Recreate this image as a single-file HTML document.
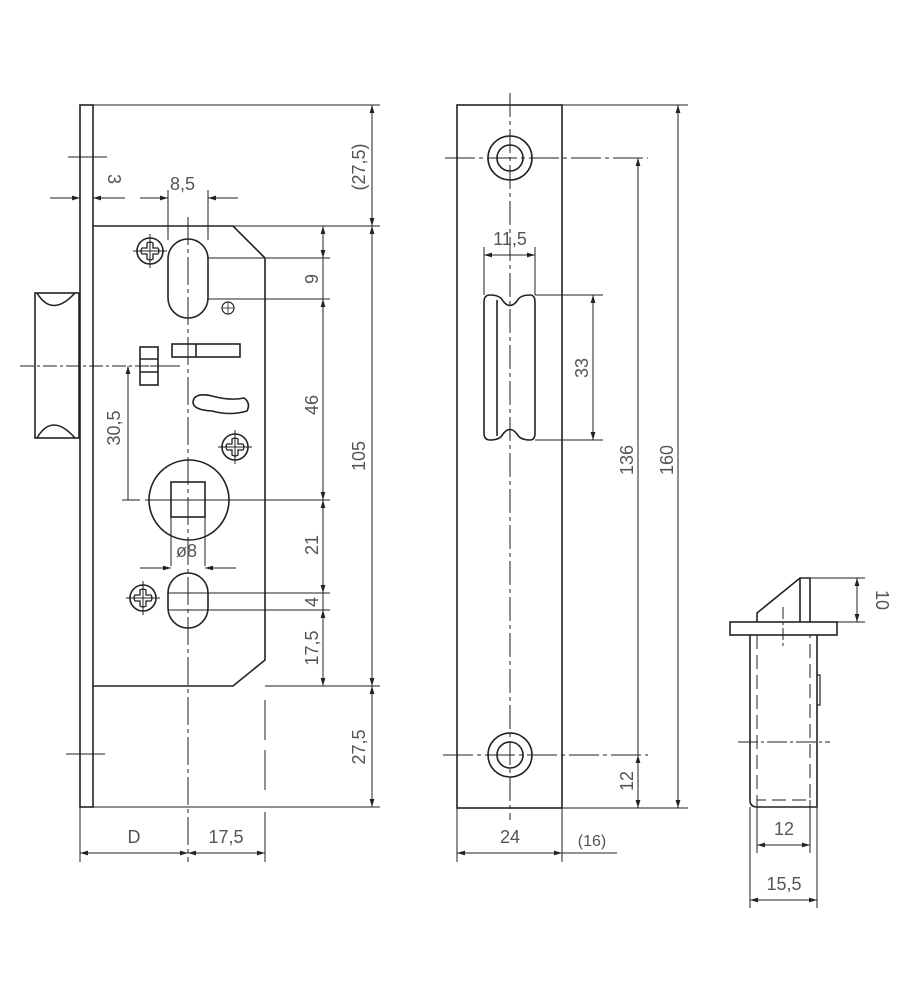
<!DOCTYPE html>
<html><head><meta charset="utf-8"><style>
html,body{margin:0;padding:0;background:#fff}
svg{display:block}
text{font-family:"Liberation Sans","DejaVu Sans",sans-serif;font-size:18px;fill:#555}
</style></head><body>
<svg width="903" height="1000" viewBox="0 0 903 1000" xmlns="http://www.w3.org/2000/svg">
<defs>
<marker id="a" viewBox="0 0 10 6" refX="10" refY="3" markerWidth="8" markerHeight="5" orient="auto-start-reverse"><path d="M0,0 L10,3 L0,6z" fill="#222"/></marker>
<g id="scr" fill="none" stroke="#222">
<circle cx="0" cy="0" r="13" stroke-width="1.6"/>
<path d="M-3,-8 Q0,-10 3,-8 L3,-3 L8,-3 Q10,0 8,3 L3,3 L3,8 Q0,10 -3,8 L-3,3 L-8,3 Q-10,0 -8,-3 L-3,-3z" stroke-width="1.3"/>
<line x1="-17" y1="0" x2="17" y2="0" stroke-width="1"/>
<line x1="0" y1="-17" x2="0" y2="17" stroke-width="1"/>
</g>
</defs>
<g stroke="#222" fill="none" stroke-width="1.6">
<rect x="80" y="105" width="13" height="702"/>
<line x1="93" y1="105" x2="380" y2="105" stroke-width="1"/>
<path d="M93,226 L233,226 L265,258 L265,660 L233,686 L93,686"/>
<line x1="233" y1="226" x2="380" y2="226" stroke-width="1"/>
<line x1="265" y1="686" x2="380" y2="686" stroke-width="1"/>
<line x1="93" y1="807" x2="380" y2="807" stroke-width="1"/>
<rect x="35" y="293" width="44" height="145"/>
<path d="M37,293 Q52,318 75,293" />
<path d="M37,438 Q52,412 75,438" />
<line x1="20" y1="366" x2="150" y2="366" stroke-width="1" stroke-dasharray="14,3,3,3"/>
<line x1="68" y1="157" x2="107" y2="157" stroke-width="1"/>
<line x1="66" y1="754" x2="105" y2="754" stroke-width="1"/>
<line x1="188" y1="217" x2="188" y2="862" stroke-width="1" stroke-dasharray="28,4,4,4"/>
<line x1="265" y1="700" x2="265" y2="800" stroke-width="1" stroke-dasharray="40,10"/>
<line x1="265" y1="812" x2="265" y2="862" stroke-width="1"/>
<line x1="80" y1="807" x2="80" y2="862" stroke-width="1"/>
<use href="#scr" x="150" y="251"/>
<rect x="168" y="239" width="40" height="79" rx="20"/>
<circle cx="228" cy="308" r="6" stroke-width="1.2"/>
<line x1="222" y1="308" x2="234" y2="308" stroke-width="0.8"/><line x1="228" y1="302" x2="228" y2="314" stroke-width="0.8"/>
<rect x="172" y="344" width="68" height="13"/>
<line x1="196" y1="344" x2="196" y2="357"/>
<rect x="140" y="347" width="18" height="38"/>
<line x1="140" y1="359" x2="158" y2="359"/><line x1="140" y1="372" x2="158" y2="372"/>
<path d="M193,402 Q194,392 212,396 Q230,401 244,398 Q251,403 247,411 Q230,416 212,411 Q193,410 193,402z"/>
<use href="#scr" x="235" y="447"/>
<circle cx="189" cy="500" r="40"/>
<rect x="171" y="482" width="34" height="35"/>
<line x1="171" y1="517" x2="171" y2="566" stroke-width="1"/>
<line x1="205" y1="517" x2="205" y2="566" stroke-width="1"/>
<line x1="145" y1="500" x2="330" y2="500" stroke-width="1"/>
<line x1="122" y1="500" x2="140" y2="500" stroke-width="1"/>
<rect x="168" y="573" width="40" height="55" rx="20"/>
<use href="#scr" x="143" y="598"/>
<g stroke-width="1">
<line x1="208" y1="258" x2="330" y2="258"/>
<line x1="208" y1="299" x2="330" y2="299"/>
<line x1="168" y1="593" x2="330" y2="593"/>
<line x1="168" y1="610" x2="330" y2="610"/>
<line x1="168" y1="190" x2="168" y2="240"/>
<line x1="208" y1="190" x2="208" y2="240"/>
<line x1="150" y1="366" x2="180" y2="366"/>
</g>
<g stroke-width="1">
<line x1="372" y1="105" x2="372" y2="226" marker-start="url(#a)" marker-end="url(#a)"/>
<line x1="372" y1="226" x2="372" y2="686" marker-start="url(#a)" marker-end="url(#a)"/>
<line x1="372" y1="686" x2="372" y2="807" marker-start="url(#a)" marker-end="url(#a)"/>
<line x1="323" y1="226" x2="323" y2="258" marker-start="url(#a)" marker-end="url(#a)"/>
<line x1="323" y1="258" x2="323" y2="299"/>
<line x1="323" y1="299" x2="323" y2="500" marker-start="url(#a)" marker-end="url(#a)"/>
<line x1="323" y1="500" x2="323" y2="593" marker-start="url(#a)" marker-end="url(#a)"/>
<line x1="323" y1="593" x2="323" y2="610"/>
<line x1="323" y1="610" x2="323" y2="686" marker-start="url(#a)" marker-end="url(#a)"/>
<line x1="128" y1="366" x2="128" y2="500" marker-start="url(#a)"/>
<line x1="140" y1="198" x2="168" y2="198" marker-end="url(#a)"/>
<line x1="208" y1="198" x2="238" y2="198" marker-start="url(#a)"/>
<line x1="50" y1="198" x2="80" y2="198" marker-end="url(#a)"/>
<line x1="93" y1="198" x2="125" y2="198" marker-start="url(#a)"/>
<line x1="140" y1="568" x2="171" y2="568" marker-end="url(#a)"/>
<line x1="205" y1="568" x2="236" y2="568" marker-start="url(#a)"/>
<line x1="80" y1="853" x2="188" y2="853" marker-start="url(#a)" marker-end="url(#a)"/>
<line x1="188" y1="853" x2="265" y2="853" marker-start="url(#a)" marker-end="url(#a)"/>
</g>
<rect x="457" y="105" width="105" height="703"/>
<line x1="562" y1="105" x2="688" y2="105" stroke-width="1"/>
<line x1="562" y1="808" x2="688" y2="808" stroke-width="1"/>
<line x1="510" y1="93" x2="510" y2="820" stroke-width="1" stroke-dasharray="24,4,4,4"/>
<circle cx="510" cy="158" r="22"/><circle cx="510" cy="158" r="13"/>
<circle cx="510" cy="755" r="22"/><circle cx="510" cy="755" r="13"/>
<line x1="445" y1="158" x2="648" y2="158" stroke-width="1" stroke-dasharray="30,4,4,4"/>
<line x1="443" y1="755" x2="648" y2="755" stroke-width="1" stroke-dasharray="30,4,4,4"/>
<path d="M484,302 Q484,295 490,295 Q500,295 503,301 Q510,310 517,301 Q520,295 530,295 Q535,295 535,302 L535,433 Q535,440 530,440 Q520,440 517,434 Q510,425 503,434 Q500,440 490,440 Q484,440 484,433z"/>
<line x1="497" y1="300" x2="497" y2="436"/>
<g stroke-width="1">
<line x1="535" y1="295" x2="603" y2="295"/>
<line x1="535" y1="440" x2="603" y2="440"/>
<line x1="484" y1="247" x2="484" y2="295"/>
<line x1="535" y1="247" x2="535" y2="295"/>
<line x1="484" y1="255" x2="535" y2="255" marker-start="url(#a)" marker-end="url(#a)"/>
<line x1="593" y1="295" x2="593" y2="440" marker-start="url(#a)" marker-end="url(#a)"/>
<line x1="638" y1="158" x2="638" y2="755" marker-start="url(#a)"/>
<line x1="638" y1="755" x2="638" y2="808" marker-start="url(#a)" marker-end="url(#a)"/>
<line x1="678" y1="105" x2="678" y2="808" marker-start="url(#a)" marker-end="url(#a)"/>
<line x1="457" y1="808" x2="457" y2="862"/>
<line x1="562" y1="808" x2="562" y2="862"/>
<line x1="457" y1="853" x2="562" y2="853" marker-start="url(#a)" marker-end="url(#a)"/>
<line x1="562" y1="853" x2="617" y2="853"/>
</g>
<rect x="730" y="622" width="107" height="13"/>
<path d="M757,622 L757,613 L800,578 L810,578 L810,622"/>
<line x1="800" y1="578" x2="800" y2="622"/>
<path d="M750,635 L750,800 Q750,807 757,807 L817,807 L817,635"/>
<path d="M817,675 L820,675 L820,705 L817,705" stroke-width="1.2"/>
<g stroke-width="1">
<path d="M757,635 L757,800 L810,800 L810,635" stroke-dasharray="14,6"/>
<line x1="783" y1="607" x2="783" y2="647" stroke-dasharray="12,3,3,3"/>
<line x1="738" y1="742" x2="830" y2="742" stroke-dasharray="20,3,3,3"/>
<line x1="810" y1="578" x2="865" y2="578"/>
<line x1="837" y1="622" x2="865" y2="622"/>
<line x1="857" y1="578" x2="857" y2="622" marker-start="url(#a)" marker-end="url(#a)"/>
<line x1="757" y1="800" x2="757" y2="853"/>
<line x1="810" y1="800" x2="810" y2="853"/>
<line x1="750" y1="807" x2="750" y2="908"/>
<line x1="817" y1="807" x2="817" y2="908"/>
<line x1="757" y1="845" x2="810" y2="845" marker-start="url(#a)" marker-end="url(#a)"/>
<line x1="750" y1="900" x2="817" y2="900" marker-start="url(#a)" marker-end="url(#a)"/>
</g>
</g>
<text x="104" y="190" transform="rotate(90 114 184)">3</text>
<text x="170" y="190">8,5</text>
<text x="365" y="167" transform="rotate(-90 365 167)" text-anchor="middle">(27,5)</text>
<text x="318" y="279" transform="rotate(-90 318 279)" text-anchor="middle">9</text>
<text x="318" y="405" transform="rotate(-90 318 405)" text-anchor="middle">46</text>
<text x="365" y="456" transform="rotate(-90 365 456)" text-anchor="middle">105</text>
<text x="120" y="428" transform="rotate(-90 120 428)" text-anchor="middle">30,5</text>
<text x="318" y="545" transform="rotate(-90 318 545)" text-anchor="middle">21</text>
<text x="318" y="602" transform="rotate(-90 318 602)" text-anchor="middle">4</text>
<text x="318" y="648" transform="rotate(-90 318 648)" text-anchor="middle">17,5</text>
<text x="365" y="747" transform="rotate(-90 365 747)" text-anchor="middle">27,5</text>
<text x="176" y="557">ø8</text>
<text x="134" y="843" text-anchor="middle">D</text>
<text x="226" y="843" text-anchor="middle">17,5</text>
<text x="510" y="245" text-anchor="middle">11,5</text>
<text x="588" y="368" transform="rotate(-90 588 368)" text-anchor="middle">33</text>
<text x="633" y="460" transform="rotate(-90 633 460)" text-anchor="middle">136</text>
<text x="673" y="460" transform="rotate(-90 673 460)" text-anchor="middle">160</text>
<text x="633" y="781" transform="rotate(-90 633 781)" text-anchor="middle">12</text>
<text x="510" y="843" text-anchor="middle">24</text>
<text x="592" y="846" text-anchor="middle" style="font-size:16px">(16)</text>
<text x="876" y="600" transform="rotate(90 876 600)" text-anchor="middle">10</text>
<text x="784" y="835" text-anchor="middle">12</text>
<text x="784" y="890" text-anchor="middle">15,5</text>
</svg>
</body></html>
